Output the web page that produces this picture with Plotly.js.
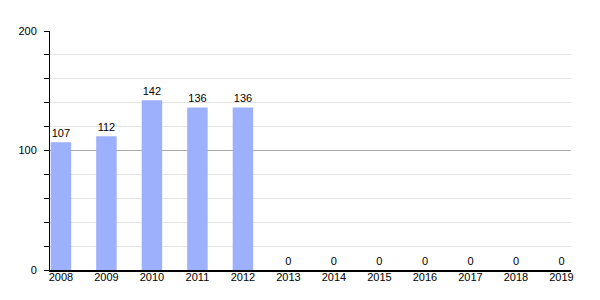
<!DOCTYPE html>
<html>
<head>
<meta charset="utf-8">
<script src="https://cdn.plot.ly/plotly-3.0.1.min.js"></script>
<style>html,body{margin:0;padding:0;background:#fff;}#chart{width:600px;height:300px;}</style>
</head>
<body>
<div id="chart"></div>
<script>
const years = ["2008","2009","2010","2011","2012","2013","2014","2015","2016","2017","2018","2019"];
const values = [107,112,142,136,136,0,0,0,0,0,0,0];

const trace = {
  type: "bar",
  x: years,
  y: values,
  text: values.map(String),
  textposition: "outside",
  cliponaxis: false,
  textfont: {family: "Liberation Sans, Arial, sans-serif", size: 11, color: "#000000"},
  marker: {color: "#9db0fb"},
  width: 0.45,
  hoverinfo: "none"
};

const layout = {
  width: 600, height: 300,
  margin: {l: 50, r: 29, t: 31, b: 30},
  paper_bgcolor: "#fff", plot_bgcolor: "#fff",
  showlegend: false,
  font: {family: "Liberation Sans, Arial, sans-serif", size: 11, color: "#000000"},
  xaxis: {
    type: "category",
    range: [-0.24, 11.21],
    showgrid: false,
    showline: true, linecolor: "#000", linewidth: 1.5,
    ticks: "", ticklen: 0,
    ticklabelstandoff: -4,
    tickfont: {size: 11, color: "#000000"},
    fixedrange: true
  },
  yaxis: {
    range: [0, 200],
    dtick: 100,
    showgrid: true, gridcolor: "#aaaaaa", gridwidth: 1,
    zeroline: false,
    showline: true, linecolor: "#000", linewidth: 1,
    ticks: "outside", ticklen: 5, tickcolor: "#000", tickwidth: 1,
    ticklabelstandoff: 5,
    tickfont: {size: 11, color: "#000000"},
    minor: {dtick: 20, showgrid: true, gridcolor: "#e3e3e3", gridwidth: 1, ticks: "outside", ticklen: 5, tickcolor: "#000"},
    fixedrange: true
  }
};

Plotly.newPlot("chart", [trace], layout, {staticPlot: true, displayModeBar: false});
</script>
</body>
</html>
